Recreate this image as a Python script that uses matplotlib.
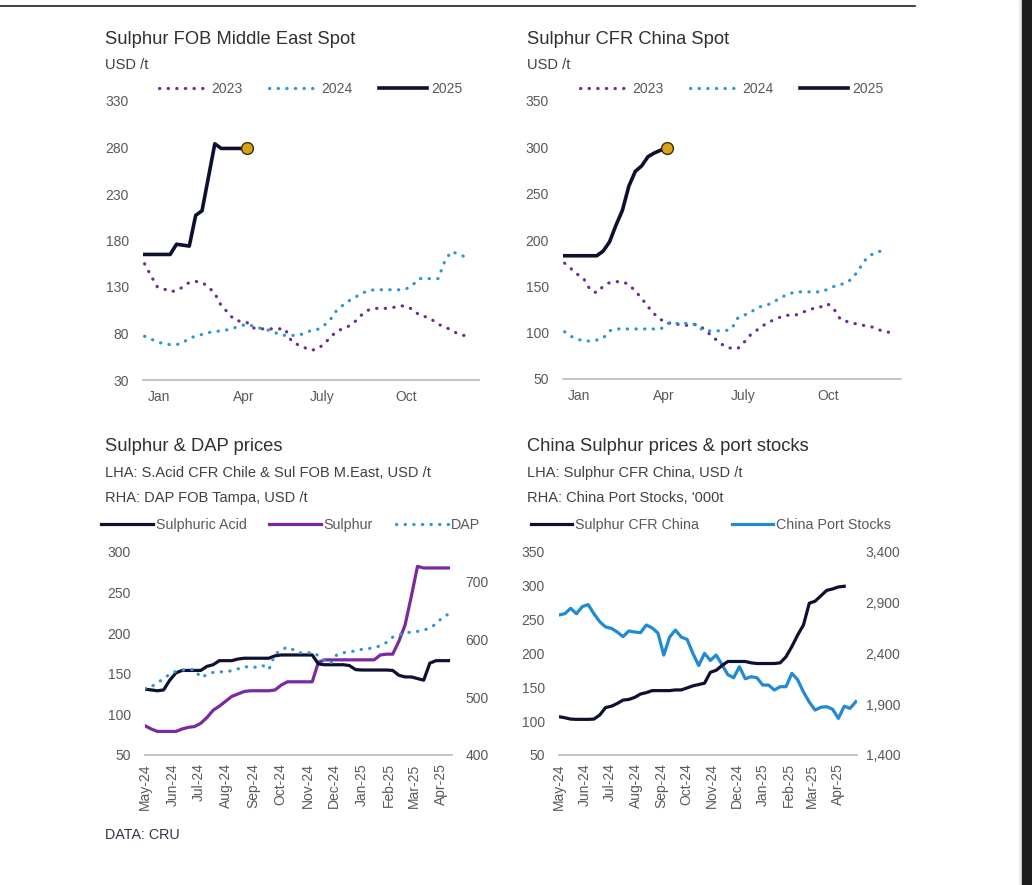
import numpy as np
import pandas as pd
import matplotlib
matplotlib.use('Agg')
import matplotlib.pyplot as plt
from matplotlib.lines import Line2D
from matplotlib.patches import Rectangle

plt.rcParams['font.family'] = ['Liberation Sans', 'DejaVu Sans']

W, H = 1032, 885

# ---- top panels: weekly values, week 0 = first week of January
season_ticks = [2.2, 15.5, 27.8, 41.0]
season_labels = ['Jan', 'Apr', 'July', 'Oct']
year_labels = ['2023', '2024', '2025']

me_2023 = [155, 142, 130, 128, 125, 126, 130, 135, 136, 135, 130, 123, 110, 103, 95, 93, 92, 86, 85, 85,
           85, 85, 85, 72, 68, 65, 62, 63, 68, 75, 82, 85, 88, 93, 100, 105, 107, 107, 107, 108,
           110, 109, 106, 100, 98, 95, 90, 87, 84, 80, 78, 77]
me_2024 = [77, 74, 71, 69, 68, 68, 70, 75, 77, 79, 81, 82, 83, 84, 86, 88, 90, 88, 86, 84,
           83, 79, 78, 78, 78, 80, 83, 84, 88, 94, 104, 110, 115, 119, 123, 126, 127, 127, 127, 127,
           127, 128, 132, 139, 139, 139, 139, 157, 168, 166, 163]
me_2025 = [165, 165, 165, 165, 165, 176, 175, 174, 207, 212, 248, 284, 279, 279, 279, 279, 279]

cn_2023 = [175, 169, 163, 158, 146, 143, 150, 154, 155, 155, 152, 145, 137, 128, 120, 114, 111, 109, 109, 108,
           109, 108, 102, 96, 90, 85, 83, 83, 90, 98, 103, 108, 112, 115, 118, 119, 119, 122, 124, 127,
           128, 131, 125, 114, 112, 110, 109, 107, 106, 103, 101, 100]
cn_2024 = [101, 96, 93, 91, 91, 92, 94, 102, 104, 104, 104, 104, 104, 104, 104, 104, 110, 110, 110, 110,
           110, 105, 102, 102, 102, 102, 104, 116, 119, 122, 127, 129, 131, 135, 139, 142, 144, 144, 144, 144,
           144, 147, 150, 152, 154, 160, 170, 180, 185, 188, 185]
cn_2025 = [183, 183, 183, 183, 183, 183, 188, 198, 216, 232, 258, 274, 280, 290, 294, 297, 299]

# ---- bottom panels: weekly from 1 May 2024
start = '2024-05-01'
acid = [131, 130, 129, 130, 142, 151, 154, 154, 154, 154, 159, 161, 166, 166, 166, 168, 169, 169, 169, 169,
        169, 172, 173, 173, 173, 173, 173, 173, 162, 161, 161, 161, 161, 160, 155, 154.5, 154.5, 154.5, 154.5, 154.5,
        154, 148, 146, 146, 144, 142, 163, 166, 166, 166]
sulphur = [86, 82, 79, 79, 79, 79, 82, 84, 85, 89, 96, 105, 110, 116, 122, 125, 128, 129, 129, 129,
           129, 130, 136, 140, 140, 140, 140, 140, 164, 167, 167, 167, 167, 167, 167, 167, 167, 167, 173, 174,
           174, 190, 210, 245, 282, 280, 280, 280, 280, 280]
dap = [515, 518, 525, 532, 540, 545, 547, 548, 548, 534, 539, 543, 544, 544, 546, 549, 553, 552, 552, 555,
       548, 574, 582, 587, 582, 577, 576, 578, 572, 564, 559, 574, 577, 579, 580, 583, 584, 586, 589, 595,
       604, 608, 611, 613, 614, 616, 620, 627, 638, 644]

cfr_china = [106.5, 105, 103, 102.6, 102.6, 102.6, 103, 109, 120, 122, 126, 131, 132, 135, 140, 142, 145, 145, 145, 145,
             146, 146, 149, 152, 154, 156, 172, 175, 182, 188, 188, 188, 188, 186, 185, 185, 185, 185, 186, 195,
             210, 227, 242, 274, 277, 285, 293, 295, 298, 299]
port_stocks = [2777, 2790, 2843, 2790, 2860, 2880, 2790, 2711, 2660, 2646, 2610, 2564, 2620, 2610, 2603, 2679, 2650, 2600, 2383, 2560,
               2629, 2560, 2538, 2400, 2280, 2400, 2330, 2383, 2290, 2190, 2160, 2269, 2150, 2170, 2160, 2088, 2088, 2039, 2072, 2072,
               2203, 2140, 2020, 1920, 1842, 1870, 1875, 1850, 1760, 1880, 1859, 1925]

NAVY = '#0d1030'
PURPLE_DOT = '#6f2c94'
BLUE_DOT = '#2f96d6'
PURPLE = '#7a2a9e'
BLUE = '#1f8ad6'
TICK = '#595959'
DOTS = (0, (0.1, 2.6))


def px_axes(fig, left, top, right, bottom):
    return fig.add_axes([left / W, 1 - bottom / H, (right - left) / W, (bottom - top) / H])


def px_text(fig, x, y, s, size=10.5, color='#404040'):
    fig.text(x / W, 1 - y / H, s, fontsize=size, color=color, ha='left', va='center')


def style_axes(ax):
    for s in ['top', 'right', 'left']:
        ax.spines[s].set_visible(False)
    ax.spines['bottom'].set_color('#bfbfbf')
    ax.spines['bottom'].set_linewidth(1.3)
    ax.tick_params(length=0, labelsize=10, labelcolor=TICK)
    ax.tick_params(axis='y', pad=10)


def season_panel(ax, s23, s24, s25, ymin, ymax, step):
    style_axes(ax)
    ax.plot(range(len(s23)), s23, color=PURPLE_DOT, lw=2.3, ls=DOTS, dash_capstyle='round', label=year_labels[0])
    ax.plot(range(len(s24)), s24, color=BLUE_DOT, lw=2.3, ls=DOTS, dash_capstyle='round', label=year_labels[1])
    ax.plot(range(len(s25)), s25, color=NAVY, lw=2.6, label=year_labels[2], zorder=4)
    ax.plot(len(s25) - 1, s25[-1], 'o', ms=8.5, mfc='#d9a21b', mec='#3b2c05', mew=1.0, zorder=5)
    ax.set_ylim(ymin, ymax)
    ax.set_yticks(np.arange(ymin, ymax + 1, step))
    ax.set_xlim(-0.3, 52.4)
    ax.set_xticks(season_ticks)
    ax.set_xticklabels(season_labels)
    ax.tick_params(axis='x', pad=7)
    ax.legend(loc='center', bbox_to_anchor=(0.5, 1.042), ncol=3, frameon=False, fontsize=10,
              handlelength=3.45, handletextpad=0.3, columnspacing=1.9, labelcolor=TICK)


fig = plt.figure(figsize=(W / 100, H / 100), dpi=100)

# top left
ax1 = px_axes(fig, 142.7, 101, 479, 380)
season_panel(ax1, me_2023, me_2024, me_2025, 30, 330, 50)
px_text(fig, 105, 39, 'Sulphur FOB Middle East Spot', size=13.2, color='#303030')
px_text(fig, 105, 65, 'USD /t')

# top right
ax2 = px_axes(fig, 562.7, 101, 901, 379)
season_panel(ax2, cn_2023, cn_2024, cn_2025, 50, 350, 50)
px_text(fig, 526.7, 39, 'Sulphur CFR China Spot', size=13.2, color='#303030')
px_text(fig, 526.7, 65, 'USD /t')

months = pd.date_range('2024-05-01', '2025-04-01', freq='MS')
month_labels = [d.strftime('%b-%y') for d in months]
t0 = pd.Timestamp(start)

# bottom left
ax3 = px_axes(fig, 145, 551.7, 452, 755)
style_axes(ax3)
d3 = pd.date_range(start, periods=len(acid), freq='7D')
l_acid, = ax3.plot(d3, acid, color=NAVY, lw=2.3, label='Sulphuric Acid', zorder=4)
l_sul, = ax3.plot(d3, sulphur, color=PURPLE, lw=2.3, label='Sulphur', zorder=3)
ax3.set_ylim(50, 300)
ax3.set_yticks(range(50, 301, 50))
ax3.set_xlim(t0, t0 + pd.Timedelta(days=347))
ax3.set_xticks(months)
ax3.set_xticklabels(month_labels, rotation=90)
ax3.tick_params(axis='x', pad=6)
ax3r = ax3.twinx()
for s in ax3r.spines.values():
    s.set_visible(False)
l_dap, = ax3r.plot(d3, dap, color=BLUE_DOT, lw=2.3, ls=DOTS, dash_capstyle='round', label='DAP', zorder=2)
ax3r.set_ylim(400, 752)
ax3r.set_yticks(range(400, 701, 100))
ax3r.tick_params(length=0, labelsize=10, labelcolor=TICK, pad=9.5)
fig.legend(handles=[l_acid, l_sul, l_dap], loc='center', bbox_to_anchor=(290.5 / W, 1 - 525 / H), ncol=3,
           frameon=False, fontsize=10.3, handlelength=3.6, handletextpad=0.2, columnspacing=1.6, labelcolor=TICK)
px_text(fig, 105, 446.7, 'Sulphur & DAP prices', size=13.2, color='#303030')
px_text(fig, 105, 473.3, 'LHA: S.Acid CFR Chile & Sul FOB M.East, USD /t')
px_text(fig, 105, 498.3, 'RHA: DAP FOB Tampa, USD /t')

# bottom right
ax4 = px_axes(fig, 559, 551.7, 856.7, 755)
style_axes(ax4)
d4a = pd.date_range(start, periods=len(cfr_china), freq='7D')
d4b = pd.date_range(start, periods=len(port_stocks), freq='7D')
l_cfr, = ax4.plot(d4a, cfr_china, color=NAVY, lw=2.3, label='Sulphur CFR China', zorder=4)
ax4.set_ylim(50, 350)
ax4.set_yticks(range(50, 351, 50))
ax4.set_xlim(t0, t0 + pd.Timedelta(days=358))
ax4.set_xticks(months)
ax4.set_xticklabels(month_labels, rotation=90)
ax4.tick_params(axis='x', pad=6)
ax4r = ax4.twinx()
for s in ax4r.spines.values():
    s.set_visible(False)
l_stk, = ax4r.plot(d4b, port_stocks, color=BLUE, lw=2.3, label='China Port Stocks', zorder=2)
ax4r.set_ylim(1400, 3400)
ax4r.set_yticks(range(1400, 3401, 500))
ax4r.set_yticklabels(['{:,}'.format(v) for v in range(1400, 3401, 500)])
ax4r.tick_params(length=0, labelsize=10, labelcolor=TICK, pad=6.5)
ax4.set_zorder(ax4r.get_zorder() + 1)
ax4.patch.set_visible(False)
fig.legend(handles=[l_cfr, l_stk], loc='center', bbox_to_anchor=(711 / W, 1 - 525 / H), ncol=2,
           frameon=False, fontsize=10.3, handlelength=2.9, handletextpad=0.2, columnspacing=2.3, labelcolor=TICK)
px_text(fig, 526.7, 446.7, 'China Sulphur prices & port stocks', size=13.2, color='#303030')
px_text(fig, 526.7, 473.3, 'LHA: Sulphur CFR China, USD /t')
px_text(fig, 526.7, 498.3, "RHA: China Port Stocks, '000t")

px_text(fig, 105, 835, 'DATA: CRU', size=10.3, color='#333344')

# screenshot frame bits
fig.add_artist(Line2D([0, 915 / W], [1 - 6 / H, 1 - 6 / H], color='#222222', lw=1.2))
fig.add_artist(Rectangle((1019 / W, 0), 3 / W, 1, color='#ececec', transform=fig.transFigure))
fig.add_artist(Rectangle((1022 / W, 0), 10 / W, 1, color='#1c1c1c', transform=fig.transFigure))

fig.savefig('out.png', dpi=100)
